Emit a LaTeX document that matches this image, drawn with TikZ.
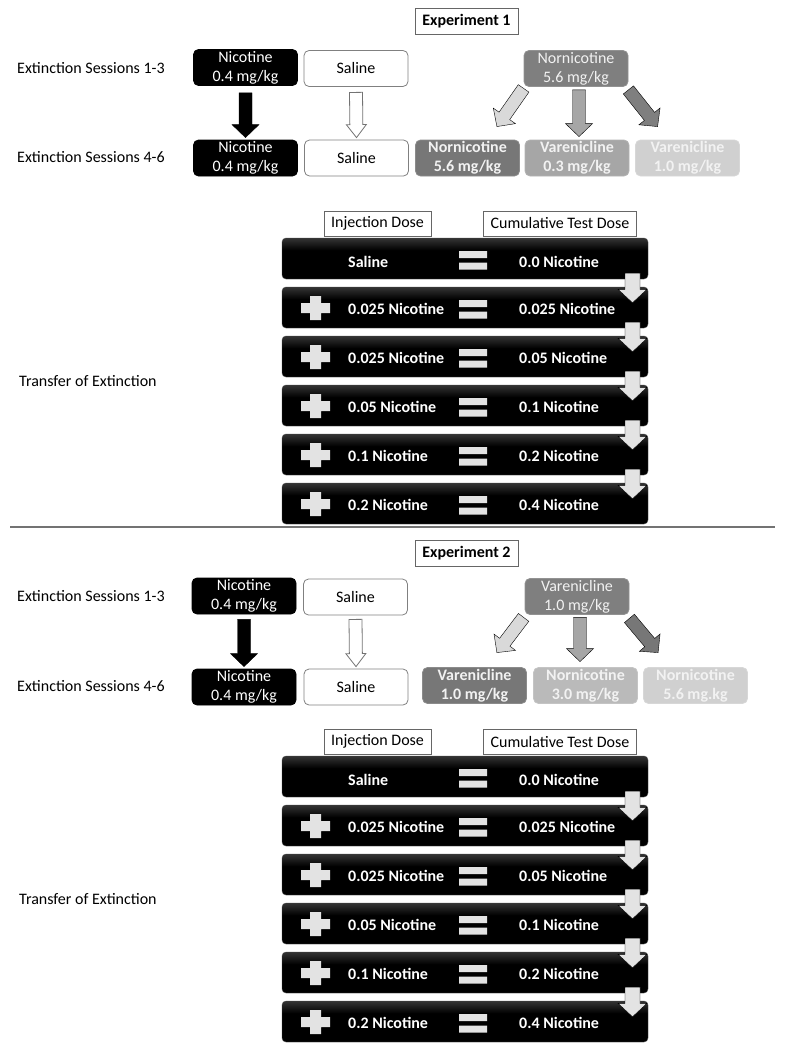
\documentclass[tikz,border=0pt]{standalone}
\usepackage{fontspec}
\setmainfont{Carlito}
\usetikzlibrary{calc}

\definecolor{paletext}{HTML}{F2F2F2}
\definecolor{signgray}{HTML}{E3E3E3}
\definecolor{darkgray}{HTML}{777777}
\definecolor{topgray}{HTML}{7F7F7F}
\definecolor{midgray}{HTML}{A6A6A6}
\definecolor{softgray}{HTML}{BABABA}
\definecolor{lightgray}{HTML}{D0D0D0}
\definecolor{arrowlight}{HTML}{D9D9D9}

\pgfdeclareverticalshading{barshade}{100bp}{color(0bp)=(black!75); color(5bp)=(black); color(60bp)=(black); color(100bp)=(black!45)}

\newcommand{\shaftw}{6.5}
\newcommand{\headw}{13.5}
\newcommand{\headl}{13}
\newcommand{\fatarrow}[3]{%
  \path let \p1=($(#3)-(#2)$), \n1={atan2(\y1,\x1)}, \n2={veclen(\x1,\y1)} in
    \pgfextra{\xdef\faang{\n1}\xdef\falen{\n2}};
  \draw[#1, shift={(#2)}, rotate=\faang]
    (0,-\shaftw) -- ({\falen-\headl},-\shaftw) -- ({\falen-\headl},-\headw) -- (\falen,0)
    -- ({\falen-\headl},\headw) -- ({\falen-\headl},\shaftw) -- (0,\shaftw) -- cycle;}

\begin{document}
\begin{tikzpicture}[x=1pt, y=-1pt,
  every node/.style={font=\fontsize{16}{19}\selectfont},
  dosebox/.style={rounded corners=5pt, minimum width=104pt, minimum height=36pt, inner sep=1pt, align=center, line width=0.8pt},
  blackbox/.style={dosebox, fill=black, draw=black, text=white},
  whitebox/.style={dosebox, fill=white, draw=black!50},
  topbox/.style={dosebox, fill=#1, draw=#1!85!white, text=paletext},
  lowbox/.style={dosebox, fill=#1, draw=#1!85!white, text=paletext, font=\fontsize{16}{19}\selectfont\bfseries},
  expbox/.style={draw=black!60, line width=0.8pt, minimum width=103pt, minimum height=26pt, inner sep=2pt, font=\fontsize{16}{19}\selectfont\bfseries},
  headbox/.style={draw=black!60, line width=0.8pt, minimum height=25pt, inner xsep=7pt, inner ysep=2pt},
  rowlabel/.style={anchor=west, inner sep=0pt},
  bar/.style={rounded corners=4pt, minimum width=366pt, minimum height=41pt, inner sep=0pt, shading=barshade, draw=black!70},
  bartext/.style={anchor=west, inner sep=0pt, text=white, font=\fontsize{16}{19}\selectfont\bfseries},
  sign/.style={fill=signgray},
  blackarrow/.style={fill=black},
  whitearrow/.style={fill=white, draw=black!55, line width=0.8pt},
  grayarrow/.style={fill=#1}]

\useasboundingbox (0,0) rectangle (785,1049);

\node[expbox] (expA) at (466.5,21.5) {Experiment 1};
\node[rowlabel] (sesA1) at (17,68) {Extinction Sessions 1-3};
\node[rowlabel] (sesA2) at (17,157.5) {Extinction Sessions 4-6};
\node[blackbox] (nicA1) at (245.5,67.5) {Nicotine\\0.4 mg/kg};
\node[whitebox] (salA1) at (356,68.5) {Saline};
\node[topbox=topgray] (norA1) at (576,68.5) {Nornicotine\\5.6 mg/kg};
\node[blackbox] (nicA2) at (245.5,158) {Nicotine\\0.4 mg/kg};
\node[whitebox] (salA2) at (356.5,158) {Saline};
\node[lowbox=darkgray] (norA2) at (467.5,158) {Nornicotine\\5.6 mg/kg};
\node[lowbox=midgray] (varA2) at (577,158) {Varenicline\\0.3 mg/kg};
\node[lowbox=lightgray] (varA3) at (687.5,158) {Varenicline\\1.0 mg/kg};

\fatarrow{blackarrow}{[yshift=-7pt]nicA1.south}{[yshift=2pt]nicA2.north}
{\renewcommand{\headw}{10}
\fatarrow{whitearrow}{[yshift=-5.5pt]salA1.south}{[yshift=2pt]salA2.north}}
\fatarrow{grayarrow=arrowlight}{[yshift=-1.5pt]norA1.south west}{[xshift=-23pt,yshift=13pt]norA2.north east}
\fatarrow{grayarrow=midgray}{[xshift=3pt,yshift=-3pt]norA1.south}{[xshift=2pt,yshift=3pt]varA2.north}
\fatarrow{grayarrow=topgray}{[yshift=-3pt]norA1.south east}{[xshift=22.5pt,yshift=13pt]varA3.north west}

\draw[black!55, line width=1.2pt] (10,527) -- (775,527);

\node[expbox] (expB) at (466.5,553) {Experiment 2};
\node[rowlabel] (sesB1) at (17,596.5) {Extinction Sessions 1-3};
\node[rowlabel] (sesB2) at (17,686) {Extinction Sessions 4-6};
\node[blackbox] (nicB1) at (244,596) {Nicotine\\0.4 mg/kg};
\node[whitebox] (salB1) at (355.5,597) {Saline};
\node[topbox=topgray] (varB1) at (577,596.5) {Varenicline\\1.0 mg/kg};
\node[blackbox] (nicB2) at (244,687) {Nicotine\\0.4 mg/kg};
\node[whitebox] (salB2) at (356,687) {Saline};
\node[lowbox=darkgray] (varB2) at (474.5,685.5) {Varenicline\\1.0 mg/kg};
\node[lowbox=softgray] (norB2) at (585.5,685.5) {Nornicotine\\3.0 mg/kg};
\node[lowbox=lightgray] (norB3) at (695.5,685.5) {Nornicotine\\5.6 mg.kg};

\fatarrow{blackarrow}{[yshift=-5pt]nicB1.south}{[yshift=2pt]nicB2.north}
{\renewcommand{\headw}{10}
\fatarrow{whitearrow}{[yshift=-4pt]salB1.south}{[yshift=2pt]salB2.north}}
\fatarrow{grayarrow=arrowlight}{[xshift=-1pt,yshift=-2.5pt]varB1.south west}{[xshift=-30pt,yshift=14.5pt]varB2.north east}
\fatarrow{grayarrow=midgray}{[xshift=3pt,yshift=-2.5pt]varB1.south}{[xshift=-5.5pt,yshift=5.5pt]norB2.north}
\fatarrow{grayarrow=darkgray}{[yshift=-3.5pt]varB1.south east}{[xshift=15pt,yshift=14.5pt]norB3.north west}

\foreach \e/\dy in {A/0,B/518}{
  \node[rowlabel] (trans\e) at (19,{381+\dy}) {Transfer of Extinction};
  \node[headbox] (inj\e) at (377.5,{223.5+\dy}) {Injection Dose};
  \node[headbox] (cum\e) at (560,{223.5+\dy}) {Cumulative Test Dose};
  \node[bar] (bar\e1) at (465,{258.5+\dy}) {};
  \node[bartext] (dose\e1) at (348,{262+\dy}) {Saline};
  \node[bartext] (total\e1) at (519,{262+\dy}) {0.0 Nicotine};
  \fill[sign] (459,{251+\dy}) rectangle (487,{258+\dy}) (459,{262.5+\dy}) rectangle (487,{269.5+\dy});
  \foreach \inj/\cum [count=\i from 2] in {0.025/0.025,0.025/0.05,0.05/0.1,0.1/0.2,0.2/0.4}{
    \pgfmathsetmacro\cy{258.5+\dy+49*(\i-1)}
    \pgfmathtruncatemacro\k{\i-1}
    \node[bar] (bar\e\i) at (465,\cy) {};
    \node[bartext] (dose\e\i) at (348,\cy+1.5) {\inj{} Nicotine};
    \node[bartext] (total\e\i) at (519,\cy+1.5) {\cum{} Nicotine};
    \fill[sign] (301,\cy-4.5) rectangle (330,\cy+5.5) (310,\cy-11.5) rectangle (321,\cy+12.5);
    \fill[sign] (459,\cy-7.5) rectangle (487,\cy-0.5) (459,\cy+4) rectangle (487,\cy+11);
    {\renewcommand{\shaftw}{7.5}\renewcommand{\headw}{14.5}\renewcommand{\headl}{13.5}
    \fatarrow{sign}{[xshift=167.5pt,yshift=6pt]bar\e\k.south}{[xshift=167.5pt,yshift=-16pt]bar\e\i.north}}
  }
}
\end{tikzpicture}
\end{document}
